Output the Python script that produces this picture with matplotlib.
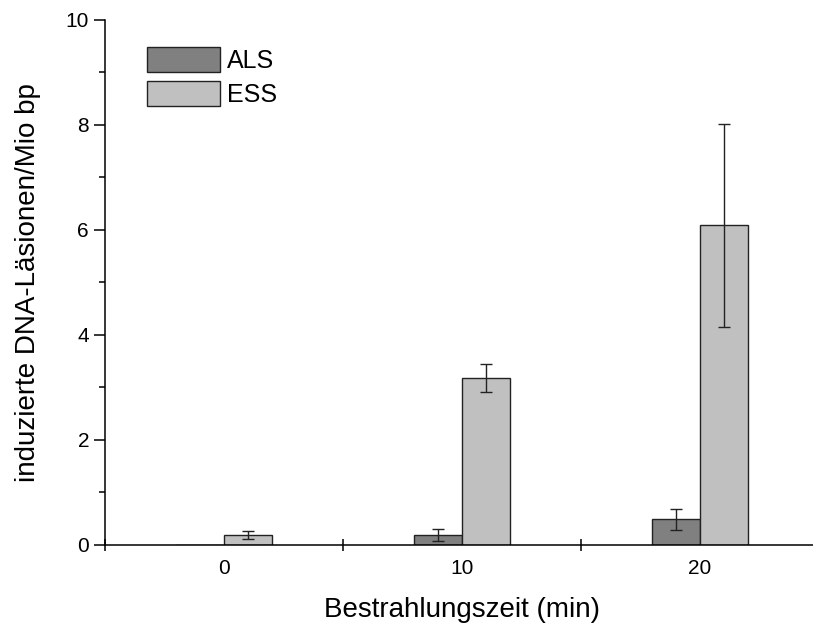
import matplotlib.pyplot as plt
import numpy as np

plt.rcParams['font.family'] = ['Liberation Sans', 'DejaVu Sans']

# irradiation times and lesion counts (per million bp)
times = ['0', '10', '20']
als_mean = [0.0, 0.19, 0.49]
als_err = [0.0, 0.12, 0.20]
ess_mean = [0.19, 3.18, 6.08]
ess_err = [0.08, 0.26, 1.94]

x = np.arange(len(times))
w = 0.2

fig = plt.figure(figsize=(8.13, 6.25), dpi=100)
ax = fig.add_axes([105/813, 80/625, 714/813, 525.5/625])

ax.bar(x, als_mean, width=-w, align='edge', color='#808080',
       edgecolor='#222222', linewidth=1.0, label='ALS')
ax.bar(x, ess_mean, width=w, align='edge', color='#c0c0c0',
       edgecolor='#222222', linewidth=1.0, label='ESS')

# error bars (skip the empty ALS bar at t=0)
m = np.array(als_err) > 0
ax.errorbar(x[m] - w/2, np.array(als_mean)[m], yerr=np.array(als_err)[m],
            fmt='none', ecolor='#222222', elinewidth=1.0, capsize=4, capthick=1.0)
ax.errorbar(x + w/2, ess_mean, yerr=ess_err,
            fmt='none', ecolor='#222222', elinewidth=1.0, capsize=4, capthick=1.0)

ax.set_xlim(-0.5, 2.5)
ax.set_ylim(0, 10)

for s in ['top', 'right']:
    ax.spines[s].set_visible(False)
for s in ['left', 'bottom']:
    ax.spines[s].set_linewidth(1.1)
ax.spines['left'].set_zorder(0.5)

# x: tick marks between groups, labels at group centres
ax.set_xticks(np.arange(-0.5, 3, 1.0))
ax.set_xticklabels([])
ax.set_xticks(x, minor=True)
ax.set_xticklabels(times, minor=True)
ax.tick_params(axis='x', which='major', direction='inout', length=8.5, width=1.1)
ax.tick_params(axis='x', which='minor', length=0, pad=10, labelsize=15)

ax.set_yticks(np.arange(0, 11, 2))
ax.set_yticks(np.arange(1, 10, 2), minor=True)
ax.tick_params(axis='y', which='major', direction='out', length=8, width=1.1,
               labelsize=15, pad=3.5)
ax.tick_params(axis='y', which='minor', direction='out', length=4.3, width=1.1)

ax.set_xlabel('Bestrahlungszeit (min)', fontsize=20, labelpad=14)
ax.set_ylabel('induzierte DNA-Läsionen/Mio bp', fontsize=20, labelpad=18)

leg = ax.legend(loc='upper left', bbox_to_anchor=(0.045, 0.967), frameon=False,
                fontsize=18, handlelength=2.9, handleheight=1.2,
                handletextpad=0.3, labelspacing=0.3, borderaxespad=0)

fig.savefig('out.png', dpi=100)
